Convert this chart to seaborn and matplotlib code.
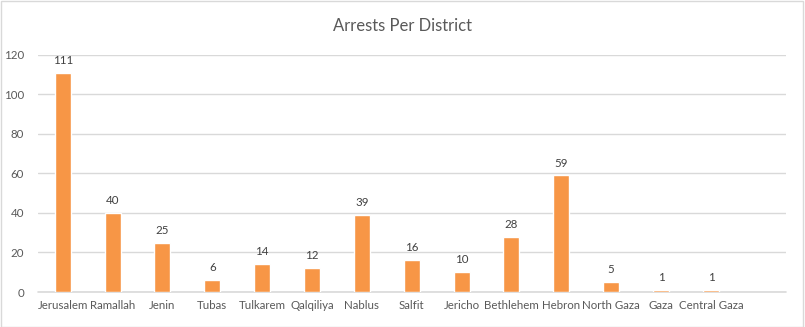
import matplotlib
matplotlib.use("Agg")
import matplotlib.pyplot as plt
import seaborn as sns
import pandas as pd
import numpy as np

districts = ["Jerusalem", "Ramallah", "Jenin", "Tubas", "Tulkarem", "Qalqiliya",
             "Nablus", "Salfit", "Jericho", "Bethlehem", "Hebron", "North Gaza",
             "Gaza", "Central Gaza", " "]
arrests = [111, 40, 25, 6, 14, 12, 39, 16, 10, 28, 59, 5, 1, 1, np.nan]
yticks = [0, 20, 40, 60, 80, 100, 120]

sns.set_theme(style="white")
plt.rcParams['font.family'] = ['Lato', 'DejaVu Sans']

df = pd.DataFrame({"District": districts, "Arrests": arrests})

fig = plt.figure(figsize=(8.05, 3.27), dpi=100)
ax = fig.add_axes([0.047, 0.107, 0.929, 0.725])
sns.barplot(data=df, x="District", y="Arrests", color="#F79646", saturation=1,
            width=0.32, ax=ax, order=districts, zorder=3)

ax.set_ylim(0, 120)
ax.set_yticks(yticks)
ax.set_xlim(-0.5, len(districts) - 0.5)
ax.yaxis.grid(True, color="#D9D9D9", linewidth=1, zorder=0)
ax.set_axisbelow(True)
for s in ["top", "right", "left", "bottom"]:
    ax.spines[s].set_visible(False)
ax.axhline(0, color="#D9D9D9", linewidth=1.2, zorder=1, clip_on=False)
ax.set_xlabel("")
ax.set_ylabel("")
ax.tick_params(axis="both", length=0, labelsize=8.3, labelcolor="#595959")
ax.tick_params(axis="x", pad=6)
ax.tick_params(axis="y", pad=10)

for i, v in enumerate(arrests):
    if not np.isnan(v):
        ax.annotate(f"{int(v)}", (i, v), xytext=(0, 5), textcoords="offset points",
                    ha="center", va="bottom", fontsize=8.3, color="#404040")

fig.text(0.5, 0.92, "Arrests Per District", ha="center", va="center",
         fontsize=12, color="#595959")

border = plt.Rectangle((0.001, 0.001), 0.997, 0.996, transform=fig.transFigure,
                       fill=False, edgecolor="#D9D9D9", linewidth=1)
fig.patches.append(border)

fig.savefig("out.png", dpi=100)
